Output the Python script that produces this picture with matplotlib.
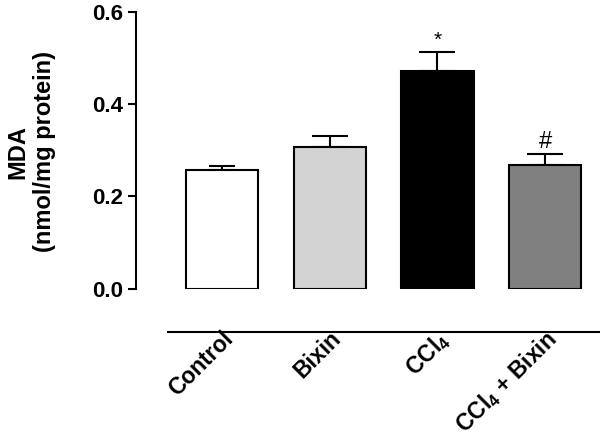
import matplotlib.pyplot as plt
import matplotlib.transforms as mtransforms
import numpy as np

plt.rcParams['font.family'] = ['Liberation Sans', 'DejaVu Sans']
plt.rcParams['mathtext.fontset'] = 'custom'
plt.rcParams['mathtext.rm'] = 'Liberation Sans:bold'
plt.rcParams['mathtext.bf'] = 'Liberation Sans:bold'
plt.rcParams['mathtext.default'] = 'bf'

# data
groups = ['Control', 'Bixin', 'CCl$_4$', 'CCl$_4$ + Bixin']
mda = [0.257, 0.308, 0.471, 0.268]
sem = [0.008, 0.023, 0.043, 0.024]
marks = ['', '', '*', '#']
colors = ['white', '#d3d3d3', 'black', '#808080']
capsizes = [9.5, 13, 13, 13]

fig = plt.figure(figsize=(6, 4.41), dpi=100)
ax = fig.add_axes([0.2267, 0.3454, 0.7733, 0.6274])

x = np.arange(len(groups))
ax.bar(x, mda, width=0.67, color=colors, edgecolor='black', linewidth=1.5, zorder=2)
for i in range(len(groups)):
    ax.errorbar(x[i], mda[i], yerr=[[0], [sem[i]]], fmt='none', ecolor='black',
                elinewidth=1.5, capsize=capsizes[i], capthick=1.5, zorder=1)
    if marks[i]:
        ax.text(x[i], mda[i] + sem[i] + 0.003, marks[i], ha='center', va='bottom',
                fontsize=17 if marks[i] == '#' else 15, fontweight='normal')

ax.set_xlim(-0.8, 3.51)
ax.set_ylim(0, 0.6)
ax.set_yticks([0.0, 0.2, 0.4, 0.6])
ax.set_yticklabels(['0.0', '0.2', '0.4', '0.6'], fontsize=16, fontweight='bold')
ax.tick_params(axis='y', length=6, width=1.5, pad=3)

ax.spines['top'].set_visible(False)
ax.spines['right'].set_visible(False)
ax.spines['left'].set_linewidth(1.5)
ax.spines['bottom'].set_linewidth(1.5)
ax.spines['bottom'].set_position(('outward', 31))
ax.spines['bottom'].set_bounds(-0.5, 3.51)

ax.set_xticks(x)
ax.set_xticklabels(groups, rotation=45, ha='right', rotation_mode='anchor',
                   fontsize=16.5, fontweight='bold')
ax.tick_params(axis='x', length=0, pad=0)
offset = mtransforms.ScaledTranslation(-0.01, 0.05, fig.dpi_scale_trans)
for lbl in ax.get_xticklabels():
    lbl.set_transform(lbl.get_transform() + offset)

fig.text(31 / 600, 1 - 152 / 441, 'MDA\n(nmol/mg protein)', rotation=90,
         ha='center', va='center', multialignment='center',
         fontsize=17, fontweight='bold')

fig.savefig('out.png', dpi=100)
